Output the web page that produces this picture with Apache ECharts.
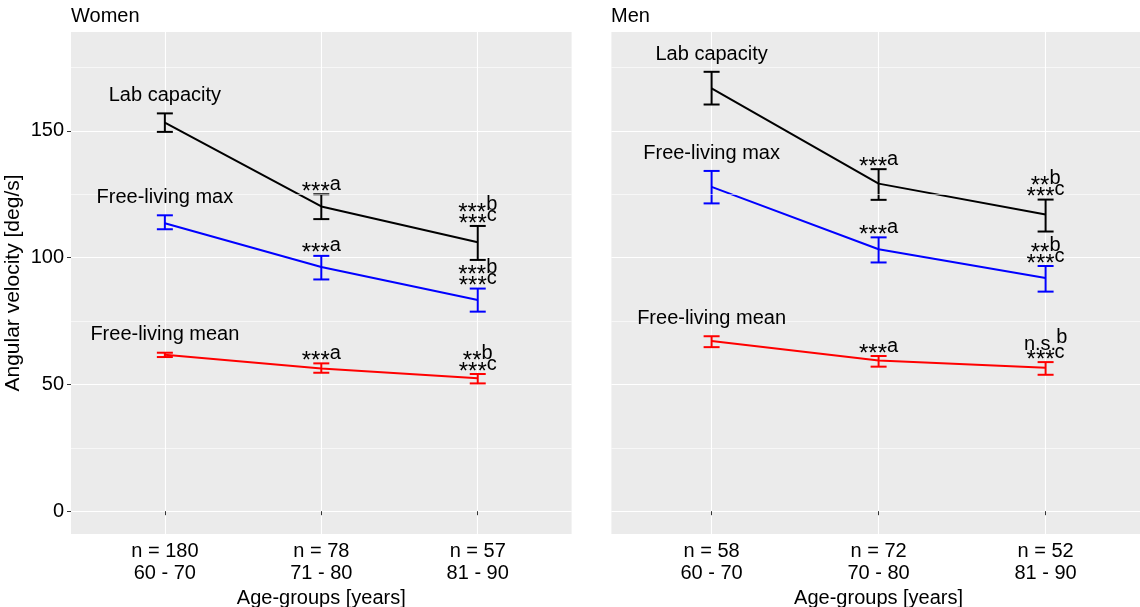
<!DOCTYPE html>
<html>
<head>
<meta charset="utf-8">
<script src="https://cdn.jsdelivr.net/npm/echarts@6/dist/echarts.min.js"></script>
<style>
html, body { margin: 0; padding: 0; background: #fff; }
#chart { width: 1140px; height: 607px; }
</style>
</head>
<body>
<div id="chart"></div>
<script>
// age groups (x labels)
var womenGroups = ['n = 180\n60 - 70', 'n = 78\n71 - 80', 'n = 57\n81 - 90'];
var menGroups = ['n = 58\n60 - 70', 'n = 72\n70 - 80', 'n = 52\n81 - 90'];
var yTicks = [0, 50, 100, 150];
var yMinorTicks = [25, 75, 125, 175];
var seriesNames = ['Lab capacity', 'Free-living max', 'Free-living mean'];
var seriesColors = ['#000000', '#0000ff', '#ff0000'];

// women: mean, lower, upper
var womenLab = [153.3, 120.2, 106.1];
var womenLabLo = [149.6, 115.2, 99.1];
var womenLabHi = [156.9, 125.0, 112.5];
var womenMax = [113.6, 96.3, 83.3];
var womenMaxLo = [111.2, 91.4, 78.7];
var womenMaxHi = [116.7, 100.7, 87.8];
var womenMean = [61.7, 56.3, 52.4];
var womenMeanLo = [60.8, 54.6, 50.4];
var womenMeanHi = [62.5, 58.3, 54.1];

// men
var menLab = [166.8, 129.2, 117.0];
var menLabLo = [160.4, 122.8, 110.3];
var menLabHi = [173.3, 134.9, 122.9];
var menMax = [127.9, 103.3, 92.0];
var menMaxLo = [121.4, 98.1, 86.6];
var menMaxHi = [134.2, 108.0, 96.7];
var menMean = [67.1, 59.4, 56.6];
var menMeanLo = [64.7, 57.0, 53.8];
var menMeanHi = [69.0, 61.2, 58.8];

// significance marks, last char is the superscript
var womenLabSig = [[], ['***a'], ['***b', '***c']];
var womenMaxSig = [[], ['***a'], ['***b', '***c']];
var womenMeanSig = [[], ['***a'], ['**b', '***c']];
var menLabSig = [[], ['***a'], ['**b', '***c']];
var menMaxSig = [[], ['***a'], ['**b', '***c']];
var menMeanSig = [[], ['***a'], ['n.s.b', '***c']];

var FONT = '"Liberation Sans", Arial, sans-serif';
var FS = 20;

var chart = echarts.init(document.getElementById('chart'));

function toXY(arr) {
    return arr.map(function (v, i) { return [i + 1, v]; });
}

function errorBars(lo, hi) {
    return lo.map(function (v, i) { return [i + 1, v, hi[i]]; });
}

function errorBarRender(color) {
    return function (params, api) {
        var x = api.value(0);
        var a = api.coord([x, api.value(1)]);
        var b = api.coord([x, api.value(2)]);
        var w = 8;
        var st = { stroke: color, lineWidth: 2, fill: null };
        return {
            type: 'group',
            children: [
                { type: 'line', shape: { x1: a[0], y1: a[1], x2: b[0], y2: b[1] }, style: st },
                { type: 'line', shape: { x1: a[0] - w, y1: a[1], x2: a[0] + w, y2: a[1] }, style: st },
                { type: 'line', shape: { x1: b[0] - w, y1: b[1], x2: b[0] + w, y2: b[1] }, style: st }
            ]
        };
    };
}

function sigRich(str) {
    var body = str.slice(0, -1);
    var letter = str.slice(-1);
    if (body.indexOf('*') >= 0) {
        return '{s|' + body + '}{p|' + letter + '}';
    }
    return '{t|' + body + '}{q|' + letter + '}';
}

var richStyle = {
    s: { fontSize: 24, lineHeight: 20, verticalAlign: 'bottom', fontFamily: FONT, fill: '#000' },
    t: { fontSize: FS, lineHeight: 20, verticalAlign: 'bottom', fontFamily: FONT, fill: '#000' },
    p: { fontSize: FS, lineHeight: 20, padding: [0, 0, 10, 0], verticalAlign: 'bottom', fontFamily: FONT, fill: '#000' },
    q: { fontSize: FS, lineHeight: 20, padding: [0, 0, 7, 0], verticalAlign: 'bottom', fontFamily: FONT, fill: '#000' }
};

function sigSeries(gridIdx, hi, sigs) {
    return {
        type: 'custom',
        xAxisIndex: gridIdx,
        yAxisIndex: gridIdx,
        z: 5,
        silent: true,
        data: errorBars(hi, hi),
        renderItem: function (params, api) {
            var lines = sigs[params.dataIndex];
            var p = api.coord([api.value(0), api.value(1)]);
            var kids = lines.map(function (s, i) {
                var lift = s.indexOf('*') >= 0 ? 0 : 7;
                return {
                    type: 'text',
                    x: p[0],
                    y: p[1] + 10 - (lines.length - 1 - i) * 11 - lift,
                    style: {
                        text: sigRich(s),
                        rich: richStyle,
                        align: 'center',
                        verticalAlign: 'bottom'
                    }
                };
            });
            return { type: 'group', children: kids };
        }
    };
}

function nameSeries(gridIdx, his) {
    return {
        type: 'custom',
        xAxisIndex: gridIdx,
        yAxisIndex: gridIdx,
        z: 5,
        silent: true,
        data: his.map(function (h) { return [1, h[0] + 7]; }),
        renderItem: function (params, api) {
            var p = api.coord([api.value(0), api.value(1)]);
            return {
                type: 'text',
                x: p[0],
                y: p[1],
                style: {
                    text: seriesNames[params.dataIndex],
                    fontSize: FS,
                    fontFamily: FONT,
                    fill: '#000',
                    align: 'center',
                    verticalAlign: 'middle'
                }
            };
        }
    };
}

function panelSeries(gridIdx, means, los, his, sigs) {
    var out = [];
    // minor grid
    out.push({
        type: 'line',
        xAxisIndex: gridIdx,
        yAxisIndex: gridIdx,
        data: [],
        z: 1,
        silent: true,
        markLine: {
            silent: true,
            symbol: 'none',
            label: { show: false },
            lineStyle: { color: '#ffffff', width: 0.6, type: 'solid' },
            data: yMinorTicks.map(function (v) { return { yAxis: v }; })
        }
    });
    means.forEach(function (m, k) {
        out.push({
            type: 'line',
            name: seriesNames[k],
            xAxisIndex: gridIdx,
            yAxisIndex: gridIdx,
            data: toXY(m),
            showSymbol: false,
            z: 3,
            lineStyle: { color: seriesColors[k], width: 2 },
            itemStyle: { color: seriesColors[k] }
        });
        out.push({
            type: 'custom',
            xAxisIndex: gridIdx,
            yAxisIndex: gridIdx,
            z: 4,
            data: errorBars(los[k], his[k]),
            renderItem: errorBarRender(seriesColors[k])
        });
        out.push(sigSeries(gridIdx, his[k], sigs[k]));
    });
    out.push(nameSeries(gridIdx, his));
    return out;
}

function xAxisFor(gridIdx, groups) {
    return {
        type: 'value',
        gridIndex: gridIdx,
        min: 0.4,
        max: 3.6,
        name: 'Age-groups [years]',
        nameLocation: 'middle',
        nameGap: 42,
        nameTextStyle: { fontSize: FS, color: '#000', fontFamily: FONT },
        axisLine: { show: false },
        axisTick: { show: true, length: 4, customValues: [1, 2, 3], lineStyle: { color: '#333', width: 1 } },
        axisLabel: {
            customValues: [1, 2, 3],
            margin: 6,
            fontSize: FS,
            lineHeight: 22,
            color: '#000',
            fontFamily: FONT,
            formatter: function (v) { return groups[Math.round(v) - 1]; }
        },
        splitLine: { show: true, lineStyle: { color: '#ffffff', width: 1.1 } }
    };
}

function yAxisFor(gridIdx, showLabels) {
    return {
        type: 'value',
        gridIndex: gridIdx,
        min: -9,
        max: 189,
        name: showLabels ? 'Angular velocity [deg/s]' : '',
        nameLocation: 'middle',
        nameGap: 47,
        nameTextStyle: { fontSize: FS + 1, color: '#000', fontFamily: FONT },
        axisLine: { show: false },
        axisTick: { show: showLabels, length: 4, customValues: yTicks, lineStyle: { color: '#333', width: 1 } },
        axisLabel: {
            show: showLabels,
            customValues: yTicks,
            margin: 7,
            fontSize: FS,
            color: '#000',
            fontFamily: FONT
        },
        splitLine: { show: true, lineStyle: { color: '#ffffff', width: 1.1 } }
    };
}

var titleStyle = { fontSize: FS, fontWeight: 'normal', color: '#000', fontFamily: FONT };

var option = {
    animation: false,
    backgroundColor: '#ffffff',
    textStyle: { fontFamily: FONT },
    title: [
        { text: 'Women', left: 71, top: 6, padding: 0, textStyle: titleStyle },
        { text: 'Men', left: 611, top: 6, padding: 0, textStyle: titleStyle }
    ],
    grid: [
        { left: 71, top: 32, width: 500.6, height: 502, outerBoundsMode: 'none', show: true, backgroundColor: '#ebebeb', borderWidth: 0 },
        { left: 611.4, top: 32, width: 534.4, height: 502, outerBoundsMode: 'none', show: true, backgroundColor: '#ebebeb', borderWidth: 0 }
    ],
    xAxis: [xAxisFor(0, womenGroups), xAxisFor(1, menGroups)],
    yAxis: [yAxisFor(0, true), yAxisFor(1, false)],
    series: [].concat(
        panelSeries(0,
            [womenLab, womenMax, womenMean],
            [womenLabLo, womenMaxLo, womenMeanLo],
            [womenLabHi, womenMaxHi, womenMeanHi],
            [womenLabSig, womenMaxSig, womenMeanSig]),
        panelSeries(1,
            [menLab, menMax, menMean],
            [menLabLo, menMaxLo, menMeanLo],
            [menLabHi, menMaxHi, menMeanHi],
            [menLabSig, menMaxSig, menMeanSig])
    )
};

chart.setOption(option);
</script>
</body>
</html>
